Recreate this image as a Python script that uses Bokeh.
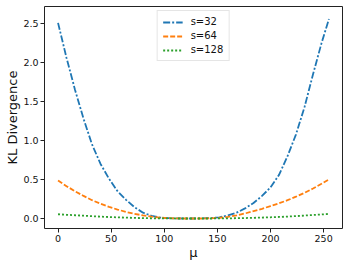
from bokeh.plotting import figure
from bokeh.models import Range1d, Legend, LegendItem, ColumnDataSource, FixedTicker, NumeralTickFormatter
from bokeh.embed import file_html
from bokeh.resources import INLINE

mu = [0, 8, 16, 24, 32, 40, 48, 56, 64, 72, 80, 88, 96, 104, 112, 120, 128,
      136, 144, 152, 160, 168, 176, 184, 192, 200, 208, 216, 224, 232, 240, 248, 255]
kl_s32 = [2.51, 2.06, 1.65, 1.28, 0.95, 0.70, 0.51, 0.35, 0.24, 0.145, 0.075, 0.035, 0.012, 0.004, 0.001, 0.0, 0.0,
          0.001, 0.005, 0.016, 0.04, 0.075, 0.13, 0.2, 0.29, 0.40, 0.56, 0.80, 1.08, 1.43, 1.85, 2.25, 2.56]
kl_s64 = [0.487, 0.415, 0.35, 0.29, 0.235, 0.19, 0.15, 0.115, 0.085, 0.06, 0.04, 0.024, 0.012, 0.005, 0.0015, 0.0002, 0.0,
          0.0005, 0.003, 0.01, 0.022, 0.04, 0.065, 0.095, 0.125, 0.16, 0.195, 0.235, 0.28, 0.33, 0.385, 0.445, 0.50]
kl_s128 = [0.055, 0.048, 0.042, 0.036, 0.030, 0.024, 0.019, 0.015, 0.011, 0.008, 0.005, 0.003, 0.002, 0.001, 0.0005, 0.0001, 0.0,
           0.0001, 0.0005, 0.001, 0.002, 0.004, 0.006, 0.009, 0.012, 0.016, 0.020, 0.025, 0.031, 0.038, 0.045, 0.052, 0.059]
labels = ["s=32", "s=64", "s=128"]
x_ticks = [0, 50, 100, 150, 200, 250]
y_ticks = [0.0, 0.5, 1.0, 1.5, 2.0, 2.5]
x_label = "μ"
y_label = "KL Divergence"

FONT = "DejaVu Sans"

p = figure(width=349, height=266, output_backend="svg", toolbar_location=None,
           x_range=Range1d(-12.75, 267.75), y_range=Range1d(-0.128, 2.72),
           min_border_left=44, min_border_right=7, min_border_top=6, min_border_bottom=38)
p.grid.visible = False
p.outline_line_color = "#222222"
p.outline_line_width = 1
p.background_fill_color = "white"
p.border_fill_color = "white"

for ax in (p.xaxis[0], p.yaxis[0]):
    ax.axis_line_color = None
    ax.major_tick_in = 0
    ax.major_tick_out = 4
    ax.major_tick_line_color = "#222222"
    ax.minor_tick_line_color = None
    ax.major_label_text_font = FONT
    ax.major_label_text_font_size = "9.5px"
    ax.major_label_text_color = "#111111"
    ax.axis_label_text_font = FONT
    ax.axis_label_text_font_size = "13px"
    ax.axis_label_text_font_style = "normal"
    ax.axis_label_text_color = "#111111"
    ax.major_label_standoff = 2
    ax.axis_label_standoff = 0

p.xaxis.ticker = FixedTicker(ticks=x_ticks)
p.yaxis.ticker = FixedTicker(ticks=y_ticks)
p.yaxis.formatter = NumeralTickFormatter(format="0.0")
p.xaxis.axis_label = x_label
p.yaxis.axis_label = y_label

src = ColumnDataSource(dict(mu=mu, a=kl_s32, b=kl_s64, c=kl_s128))
r1 = p.line("mu", "a", source=src, line_color="#1f77b4", line_width=1.8, line_dash="7 2 2 2")
r2 = p.line("mu", "b", source=src, line_color="#ff7f0e", line_width=1.8, line_dash="5 2")
r3 = p.line("mu", "c", source=src, line_color="#2ca02c", line_width=1.8, line_dash="2 2")

legend = Legend(items=[LegendItem(label=labels[0], renderers=[r1]),
                       LegendItem(label=labels[1], renderers=[r2]),
                       LegendItem(label=labels[2], renderers=[r3])],
                location="top_center", orientation="vertical",
                label_text_font=FONT, label_text_font_size="10px", label_text_color="#111111",
                glyph_width=20, glyph_height=10, label_height=10, label_standoff=8,
                spacing=3, padding=5, margin=4,
                border_line_color="#cccccc", border_line_width=1,
                background_fill_color="white", background_fill_alpha=0.8)
p.add_layout(legend, "center")

open("out.html", "w").write(file_html(p, INLINE))
